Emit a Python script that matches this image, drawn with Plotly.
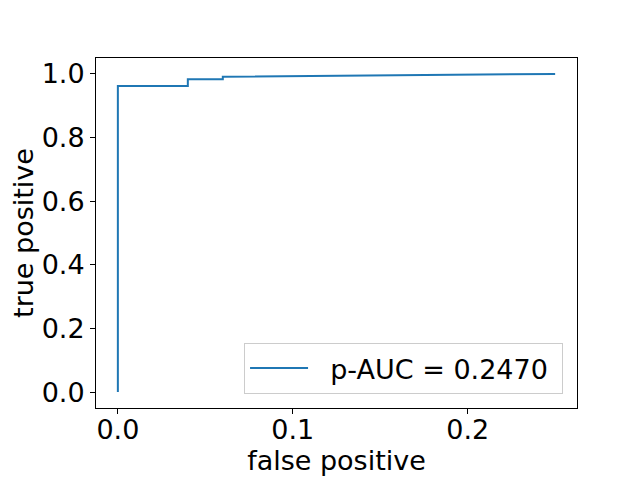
import plotly.graph_objects as go

fpr = [0.0, 0.0, 0.04, 0.04, 0.06, 0.06, 0.25]
tpr = [0.0, 0.962, 0.962, 0.983, 0.983, 0.991, 1.0]
label = "p-AUC = 0.2470"
x_ticks = [0.0, 0.1, 0.2]
y_ticks = [0.0, 0.2, 0.4, 0.6, 0.8, 1.0]

FONT = "DejaVu Sans"
FS = 27
fig = go.Figure()
fig.add_trace(go.Scatter(x=fpr, y=tpr, mode="lines", name="  " + label + "\u00a0",
                         line=dict(color="#1f77b4", width=2)))

axis_common = dict(showgrid=False, zeroline=False, showline=True, mirror=True,
                   linecolor="black", linewidth=1, ticks="outside", ticklen=5,
                   tickcolor="black", tickwidth=1, automargin=False,
                   tickfont=dict(family=FONT, size=FS, color="black"))
# page body adds an 8px offset; margins compensate so the plot box lands at 96..577 x 58..408
fig.update_layout(
    width=640, height=480,
    margin=dict(l=88, r=71, t=50, b=80),
    paper_bgcolor="white", plot_bgcolor="white",
    font=dict(family=FONT, size=FS, color="black"),
    xaxis=dict(range=[-0.0125, 0.2625], tickvals=x_ticks,
               ticktext=[f"{v:.1f}" for v in x_ticks],
               ticklabelstandoff=-7,
               title=dict(text="false positive", font=dict(family=FONT, size=FS), standoff=0),
               **axis_common),
    yaxis=dict(range=[-0.05, 1.05], tickvals=y_ticks,
               ticktext=[f"{v:.1f}" for v in y_ticks],
               title=dict(text="true positive", font=dict(family=FONT, size=FS), standoff=6),
               **axis_common),
    showlegend=True,
    legend=dict(x=0.971, y=0.04, xanchor="right", yanchor="bottom",
                bgcolor="rgba(255,255,255,0.8)", bordercolor="#cccccc", borderwidth=1,
                font=dict(family=FONT, size=FS, color="black"), itemwidth=58),
)
fig.write_html("out.html")
